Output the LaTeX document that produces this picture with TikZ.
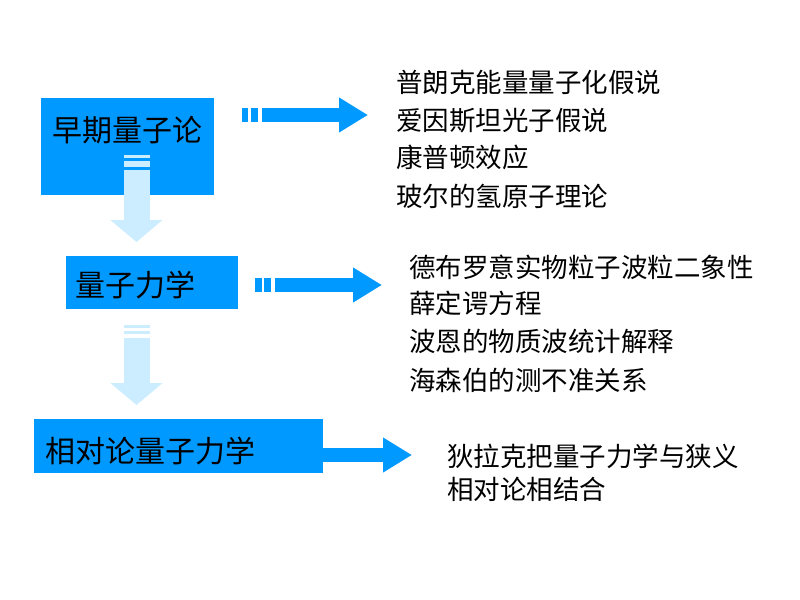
\documentclass[tikz,border=0pt]{standalone}
\usepackage{fontspec}
\newfontfamily\cjk{Noto Sans CJK SC}
\usepackage{tikz}
\usetikzlibrary{arrows.meta}
\definecolor{boxblue}{RGB}{0,153,255}
\definecolor{paleblue}{RGB}{204,236,255}

\begin{document}
\begin{tikzpicture}[x=0.5pt,y=-0.5pt,
        bluebox/.style={fill=boxblue,inner ysep=0pt,anchor=north west,font=\cjk\fontsize{15}{18}\selectfont},
        item/.style={anchor=base west,inner sep=0pt,font=\cjk\fontsize{13.25}{16}\selectfont},
        rarrow/.style={draw=boxblue,line width=7pt,-{Triangle[length=14.5pt,width=16.5pt]}},
        darrow/.style={draw=paleblue,line width=13pt,-{Triangle[length=11pt,width=25.5pt]}}]
        \useasboundingbox (0,0) rectangle (800,600);
        \node[bluebox,inner xsep=0pt,text width=86.5pt,align=center,text height=21.7pt,text depth=26.8pt] at (41,98) (5b1e07c2) {早期量子论};
        \node[bluebox,inner xsep=4.5pt,text width=77pt,align=left,text height=20.2pt,text depth=6.3pt] at (66,256) (a73d94f0) {量子力学};
        \node[bluebox,inner xsep=5.5pt,text width=133.5pt,align=left,text height=21.7pt,text depth=5.3pt] at (34,419) (c2f86b15) {相对论量子力学};
        \node[item] at (396,92.5) (19e4d3a7) {普朗克能量量子化假说};
        \node[item] at (396,130) (7d02b9e1) {爱因斯坦光子假说};
        \node[item] at (396,167.5) (e8a5c360) {康普顿效应};
        \node[item] at (396,206) (40bf7d28) {玻尔的氢原子理论};
        \node[item] at (409,277) (b6c1e95a) {德布罗意实物粒子波粒二象性};
        \node[item] at (409,313) (2e97f0d4) {薛定谔方程};
        \node[item] at (409,351) (f35a8c61) {波恩的物质波统计解释};
        \node[item] at (409,390) (8c4e2b73) {海森伯的测不准关系};
        \node[item] at (447,466) (d91b6f08) {狄拉克把量子力学与狭义};
        \node[item] at (447,499) (63a0e4c9) {相对论相结合};
        \coordinate (0f3b9d2e) at (242,115);
        \coordinate (9a4c7e15) at (368,115);
        \coordinate (b58e1f40) at (255,285);
        \coordinate (47d2a6c3) at (382,285);
        \coordinate (e6f9032b) at (323,455);
        \coordinate (1c7b5e8d) at (412,455);
        \coordinate (8f2d4a96) at (136.5,155);
        \coordinate (3e60c1b7) at (136.5,242);
        \coordinate (d4a8f52e) at (136.5,325);
        \coordinate (72b1e9c0) at (136.5,405);
        \path
        (0f3b9d2e) edge [rarrow,dash pattern=on 3pt off 1.5pt on 3.5pt off 2pt on 200pt] (9a4c7e15)
        (b58e1f40) edge [rarrow,dash pattern=on 3.5pt off 1pt on 3.5pt off 2pt on 200pt] (47d2a6c3)
        (e6f9032b) edge [rarrow] (1c7b5e8d)
        (8f2d4a96) edge [darrow,dash pattern=on 1.5pt off 1.5pt on 3pt off 1.5pt on 200pt] (3e60c1b7)
        (d4a8f52e) edge [darrow,dash pattern=on 1.5pt off 1.5pt on 1.5pt off 2pt on 200pt] (72b1e9c0)
        ;
    \end{tikzpicture}
\end{document}
